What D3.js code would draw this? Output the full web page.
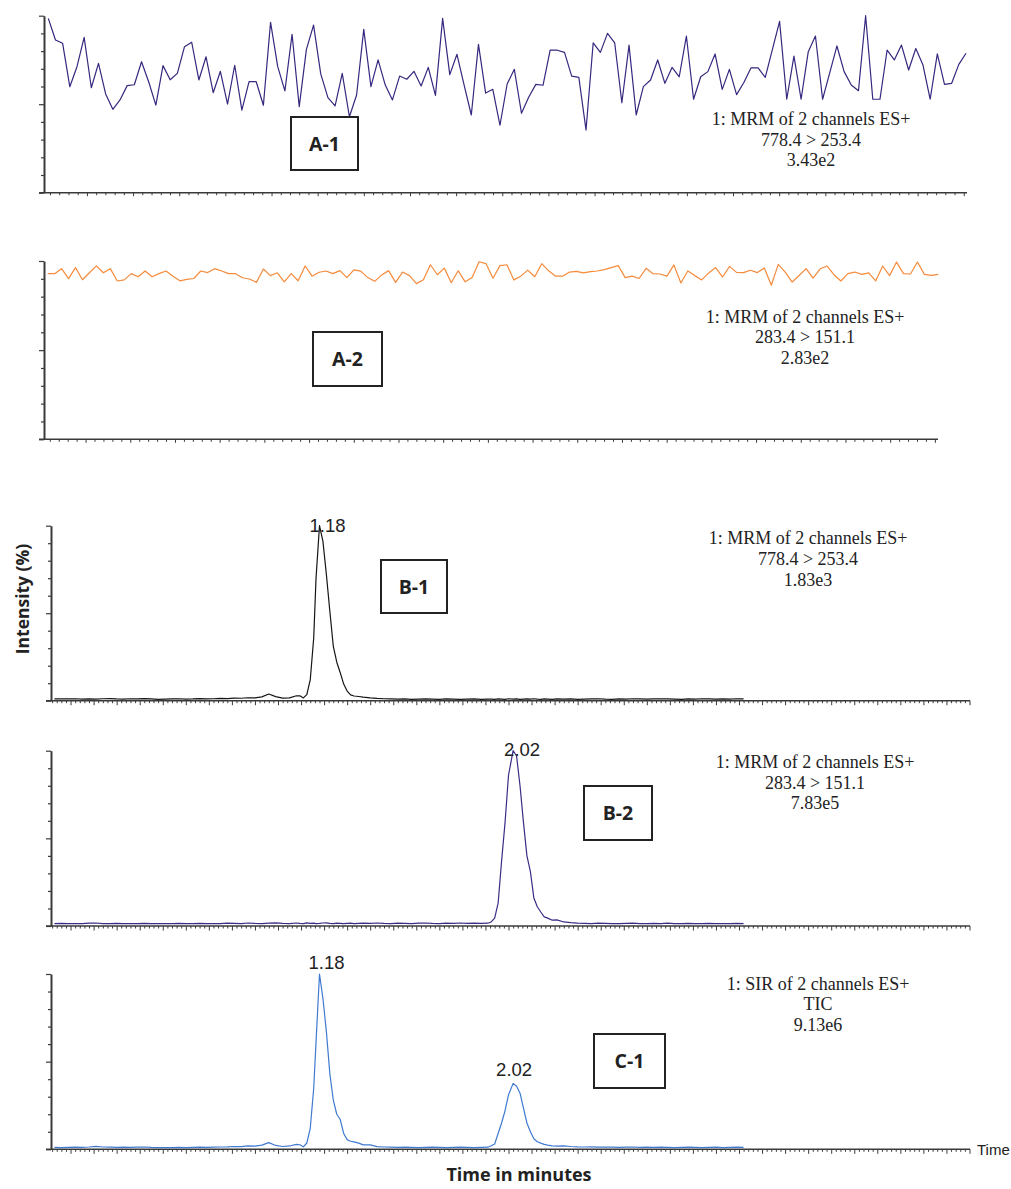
<!DOCTYPE html>
<html><head><meta charset="utf-8">
<script src="https://cdn.jsdelivr.net/npm/d3@7"></script>
<style>body{margin:0;background:#fff}svg{display:block}</style>
</head><body>
<svg id="chart" width="1011" height="1189"></svg>
<script>
// ---------- DATA ----------
// A-1: MRM 778.4 > 253.4 (blank), intensity % per scan
const a1Values = [98.5,86.3,84.4,59.9,71.2,87.8,59.3,73.1,55.8,47.1,52.4,60.5,61.0,74.0,62.7,49.5,71.8,63.8,67.4,82.5,
  85.0,63.7,76.8,56.5,68.6,50.1,72.0,46.7,62.7,62.7,49.4,96.3,71.2,57.5,89.5,48.6,81.0,94.7,67.1,53.7,49.0,
  67.4,42.9,55.2,92.3,59.9,75.0,60.8,52.4,65.9,64.1,68.6,60.3,70.8,55.0,98.5,66.7,78.2,60.8,43.9,83.8,
  56.3,58.4,38.1,61.4,69.7,44.9,53.9,61.2,60.7,80.5,80.5,79.3,65.9,65.2,35.4,84.7,
  79.3,90.0,84.7,50.8,83.4,43.9,59.9,63.7,75.0,61.8,70.8,65.5,88.5,52.8,65.5,68.4,78.4,58.4,69.7,55.4,
  62.1,70.5,70.5,65.2,81.0,96.8,52.8,77.2,52.8,79.7,88.5,52.8,67.8,82.9,68.4,60.8,57.6,100,52.8,52.8,
  80.6,75.0,83.4,69.3,81.5,72.1,52.8,78.4,61.2,61.8,72.5,78.8];
// A-2: MRM 283.4 > 151.1 (blank)
const a2Values = [92.9,92.9,95.7,90.1,96.3,89.5,93.4,97.3,93.4,95.7,88.8,89.4,92.9,91.2,94.4,91.2,92.9,94.4,91.5,88.9,
  89.7,90.2,94.4,93.5,95.7,94.4,92.9,92.9,90.6,89.9,88.0,95.5,91.8,93.4,88.3,92.9,88.9,
  97.2,91.5,93.7,94.4,92.9,94.6,90.7,95.0,94.3,90.7,88.6,92.2,94.6,88.0,93.8,91.8,87.3,89.5,97.9,92.3,
  96.0,87.8,94.5,88.3,90.7,99.6,98.5,90.3,97.4,97.9,89.4,91.5,94.9,91.2,98.5,94.5,91.5,91.5,93.8,94.2,
  93.3,94.0,94.4,95.2,96.3,97.4,90.7,91.5,90.2,
  95.9,92.9,92.7,91.5,97.8,87.7,94.4,91.8,89.4,93.3,96.3,91.0,97.0,93.6,93.5,94.8,93.5,96.1,86.4,98.1,
  93.8,88.2,91.9,95.7,90.4,95.5,97.2,92.3,88.8,92.9,93.8,92.5,93.3,88.8,97.2,91.8,99.4,92.9,92.7,99.4,
  92.5,91.9,92.5];
// Shared retention-time grid (min) for B-1, B-2, C-1
const bcTimes = [0.03,0.06,0.09,0.12,0.15,0.18,0.21,0.24,0.27,0.30,0.33,0.36,0.39,0.42,0.45,0.48,0.51,0.54,0.57,0.60,
  0.63,0.66,0.69,0.72,0.75,0.78,0.81,0.84,0.87,0.90,0.93,0.96,0.99,1.02,1.05,1.08,
  1.095,1.11,1.125,1.14,1.155,1.165,1.18,1.195,1.21,1.225,1.24,1.255,1.27,1.285,1.30,1.315,1.33,1.35,1.37,
  1.40,1.43,1.46,1.49,1.52,1.55,1.58,1.61,1.64,1.67,1.70,1.73,1.76,1.79,1.82,1.85,1.88,1.91,
  1.925,1.94,1.955,1.97,1.985,2.00,2.02,2.035,2.05,2.065,2.08,2.095,2.11,2.125,2.14,2.155,2.17,2.19,2.21,
  2.24,2.27,2.30,2.33,2.36,2.39,2.42,2.45,2.48,2.51,2.54,2.57,2.60,2.63,2.66,2.69,2.72,2.75,2.78,2.81,
  2.84,2.87,2.90,2.93,2.96,2.99,3.02];
const b1Values = [1.0,1.1,1.0,1.1,0.9,1.0,0.9,1.1,1.2,1.0,0.9,1.1,1.0,1.2,1.0,0.8,0.9,1.0,1.1,0.9,
  1.0,1.2,1.0,1.1,1.3,1.2,1.5,1.4,1.7,1.6,2.2,3.8,2.3,1.5,1.6,2.8,
  2.8,1.6,3.5,12,36,70,100,91,72,51,31,22,16,9.5,5.5,3.3,2.7,2.4,2.0,
  1.6,1.3,1.1,1.0,0.9,1.0,0.8,0.9,1.0,0.9,0.8,1.0,0.9,0.8,0.9,1.0,0.8,0.9,
  0.9,0.8,1.0,0.9,0.8,1.1,0.9,1.0,0.8,0.9,1.0,0.9,1.1,0.9,0.8,1.0,0.9,0.8,1.0,
  0.9,1.0,0.8,0.9,1.0,1.1,0.9,0.8,1.0,0.9,1.1,1.0,0.9,1.0,1.1,1.0,0.9,0.8,1.0,0.9,
  1.1,1.0,0.9,1.0,0.9,1.1,1.0];
const b2Values = [1.3,1.5,1.4,1.3,1.4,1.6,1.7,1.4,1.3,1.5,1.4,1.3,1.4,1.5,1.4,1.3,1.4,1.3,1.5,1.4,
  1.3,1.5,1.4,1.3,1.4,1.6,1.5,1.4,1.7,1.5,1.4,1.6,1.8,1.5,1.4,1.7,
  1.5,1.4,1.8,1.5,1.6,1.4,1.5,1.7,1.8,1.5,1.4,1.6,1.5,1.4,1.5,1.6,1.4,1.5,1.6,
  1.5,1.7,1.5,1.4,1.6,1.5,1.4,1.6,1.7,1.5,1.4,1.6,1.5,1.7,1.5,1.6,1.5,1.6,
  2.3,4.5,13,37,59,86,100,97,80,59,40,31,16,11,8,5.2,4.5,3.3,3.5,
  2.3,1.9,1.6,1.5,1.4,1.6,1.5,1.4,1.3,1.5,1.6,1.4,1.3,1.5,1.4,1.6,1.4,1.3,1.5,1.4,
  1.3,1.5,1.4,1.3,1.4,1.5,1.4];
const c1Values = [1.1,1.0,1.1,1.2,1.1,1.3,1.7,1.3,1.2,1.1,1.2,1.1,1.2,1.3,1.1,1.0,0.9,1.0,1.1,1.0,
  1.1,1.2,1.1,1.2,1.3,1.4,1.6,1.5,1.9,1.8,2.4,3.8,2.2,1.6,1.9,2.8,
  2.6,1.4,3.6,12,35,61,100,86,67,43,28,20,17,9,5.5,4.6,4.2,3.5,2.5,
  2.5,1.5,1.3,1.2,1.1,1.2,1.1,1.0,1.1,1.2,1.1,1.0,1.1,1.2,1.1,1.0,1.1,1.2,
  2.0,3.0,9,15,22,31,37.6,36,32,23.5,15,10,6,4.3,3.5,2.8,2.4,2.0,1.8,
  1.9,1.6,1.4,1.3,1.4,1.2,1.3,1.2,1.1,1.2,1.3,1.1,1.2,1.1,1.2,1.1,1.0,1.1,1.2,1.1,
  1.0,1.1,1.2,1.0,1.1,1.2,1.1];
// Text of each trace
const panelNames = ["A-1","A-2","B-1","B-2","C-1"];
const descA1 = ["1: MRM of 2 channels ES+","778.4 > 253.4","3.43e2"];
const descA2 = ["1: MRM of 2 channels ES+","283.4 > 151.1","2.83e2"];
const descB1 = ["1: MRM of 2 channels ES+","778.4 > 253.4","1.83e3"];
const descB2 = ["1: MRM of 2 channels ES+","283.4 > 151.1","7.83e5"];
const descC1 = ["1: SIR of 2 channels ES+","TIC","9.13e6"];
const peaksB1 = [1.18];
const peaksB2 = [2.02];
const peaksC1 = [1.18, 2.02];
const yLabel = "Intensity (%)";
const xLabel = "Time in minutes";
const xUnit = "Time";

// ---------- DRAW ----------
const svg = d3.select("#chart");
const axisColor = "#3a3a3a";

const panels = [
  {name:panelNames[0], desc:descA1, kind:"A", color:"#35287f", values:a1Values,
   top:15.7, bottom:192.7, yx:44, axisRange:[44,967], lineRange:[48.3,966],
   box:[291,117,67,53], descX:811, descY:125},
  {name:panelNames[1], desc:descA2, kind:"A", color:"#f58b3c", values:a2Values,
   top:261, bottom:439.3, yx:44, axisRange:[44,938], lineRange:[47.7,938.3],
   box:[313,332,69,54], descX:805, descY:322.7},
  {name:panelNames[2], desc:descB1, kind:"B", color:"#151515", values:b1Values,
   top:525.7, bottom:700.7, yx:51, box:[381,560,66,53], descX:808, descY:544.3,
   peaks:peaksB1, peakOff:[8], peakBase:[531.7]},
  {name:panelNames[3], desc:descB2, kind:"B", color:"#3b2c86", values:b2Values,
   top:750.7, bottom:926, yx:51, box:[584,786,68,54], descX:815, descY:768,
   peaks:peaksB2, peakOff:[9], peakBase:[756]},
  {name:panelNames[4], desc:descC1, kind:"B", color:"#3f7ad0", values:c1Values,
   top:974, bottom:1149.3, yx:51, box:[594,1034,71,54], descX:818, descY:989.5,
   peaks:peaksC1, peakOff:[7,1], peakBase:[969.3,1076]}
];

const rnd = v => Math.round(v*1000)/1000;

panels.forEach(p => {
  const g = svg.append("g");
  const y = d3.scaleLinear().domain([0,100]).range([p.bottom, p.top]);
  let xAxisScale, minorT, majorT, minorLen, majorLen;
  if (p.kind === "A") {
    xAxisScale = d3.scaleLinear().domain([0.014,4.014]).range(p.axisRange);
    minorT = d3.range(1,101).filter(i => i % 5 !== 0).map(i => rnd(i*0.04));
    majorT = d3.range(1,21).map(i => rnd(i*0.2));
    minorLen = 2.5; majorLen = 3.5;
  } else {
    xAxisScale = d3.scaleLinear().domain([0,4]).range([47.5,969.5]);
    minorT = d3.range(1,201).filter(i => i % 5 !== 0).map(i => rnd(i*0.02));
    majorT = d3.range(1,41).map(i => rnd(i*0.1));
    minorLen = 2.5; majorLen = 4.5;
  }
  // x axis (minor + major ticks)
  const xg = g.append("g").attr("transform", `translate(0,${p.bottom})`);
  xg.append("g").call(d3.axisBottom(xAxisScale).tickValues(minorT).tickSize(minorLen).tickSizeOuter(0).tickFormat(""))
    .call(s => s.select(".domain").remove());
  xg.append("g").call(d3.axisBottom(xAxisScale).tickValues(majorT).tickSize(majorLen).tickSizeOuter(0).tickFormat(""));
  xg.selectAll("line").attr("stroke", axisColor).attr("stroke-width", 1);
  xg.selectAll(".domain").attr("stroke", axisColor).attr("stroke-width", 1.6);
  if (p.kind === "A") xg.select(".domain").attr("d", `M${p.yx-5},0H${p.axisRange[1]}`);
  else xg.select(".domain").attr("d", `M${p.yx-5},0H970`);

  // y axis
  const yg = g.append("g").attr("transform", `translate(${p.yx},0)`);
  yg.append("g").call(d3.axisLeft(y).tickValues([10,20,30,40,60,70,80,90]).tickSize(3).tickFormat(""))
    .call(s => s.select(".domain").remove());
  yg.append("g").call(d3.axisLeft(y).tickValues([0,50,100]).tickSize(5).tickSizeOuter(0).tickFormat(""));
  yg.selectAll("line").attr("stroke", axisColor).attr("stroke-width", 1.2);
  yg.selectAll(".domain").attr("stroke", axisColor).attr("stroke-width", 2);

  // trace
  let line;
  if (p.kind === "A") {
    const xi = d3.scaleLinear().domain([0, p.values.length-1]).range(p.lineRange);
    line = d3.line().x((d,i) => xi(i)).y(d => y(d));
  } else {
    line = d3.line().x((d,i) => xAxisScale(bcTimes[i])).y(d => y(d));
  }
  g.append("path").datum(p.values).attr("d", line)
    .attr("fill","none").attr("stroke", p.color).attr("stroke-width", 1.2)
    .attr("stroke-linejoin","round");

  // peak labels
  if (p.peaks) {
    p.peaks.forEach((t,k) => {
      g.append("text").attr("x", xAxisScale(t) + p.peakOff[k]).attr("y", p.peakBase[k])
        .attr("text-anchor","middle").attr("font-family","'Liberation Sans', Arial, sans-serif")
        .attr("font-size", 18.5).attr("fill","#222").text(t.toFixed(2));
    });
  }

  // description block
  p.desc.forEach((s,k) => {
    g.append("text").attr("x", p.descX).attr("y", p.descY + k*20.6)
      .attr("text-anchor","middle").attr("font-family","'Liberation Serif', 'Times New Roman', serif")
      .attr("font-size", 18).attr("fill","#222").text(s);
  });

  // panel box label
  const [bx,by,bw,bh] = p.box;
  g.append("rect").attr("x",bx).attr("y",by).attr("width",bw).attr("height",bh)
    .attr("fill","#fff").attr("stroke","#222").attr("stroke-width",2);
  g.append("text").attr("x", bx+bw/2).attr("y", by+bh/2+7).attr("text-anchor","middle")
    .attr("font-family","'Open Sans', sans-serif").attr("font-weight","bold")
    .attr("font-size",19.5).attr("fill","#222").text(p.name);
});

// axis titles
svg.append("text").attr("transform","translate(29,599) rotate(-90)").attr("text-anchor","middle")
  .attr("font-family","'Open Sans', sans-serif").attr("font-weight","bold").attr("font-size",17.5)
  .attr("fill","#222").text(yLabel);
svg.append("text").attr("x",519).attr("y",1181).attr("text-anchor","middle")
  .attr("font-family","'Open Sans', sans-serif").attr("font-weight","bold").attr("font-size",18)
  .attr("fill","#222").text(xLabel);
svg.append("text").attr("x",977).attr("y",1155).attr("text-anchor","start")
  .attr("font-family","'Liberation Sans', Arial, sans-serif").attr("font-size",15)
  .attr("fill","#222").text(xUnit);
</script>
</body></html>
